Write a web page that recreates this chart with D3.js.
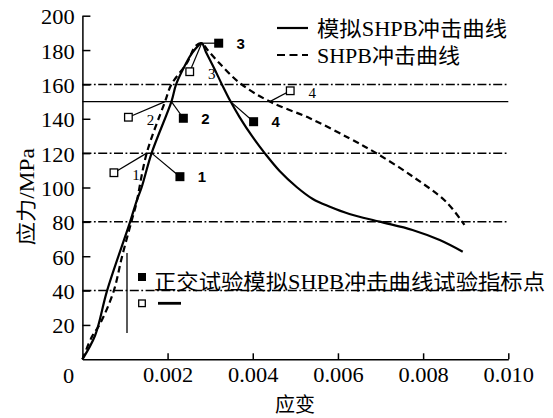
<!DOCTYPE html>
<html>
<head>
<meta charset="utf-8">
<script src="https://cdn.jsdelivr.net/npm/d3@7"></script>
<style>
  body { margin: 0; background: #fff; }
  svg { display: block; }
</style>
</head>
<body>
<div id="chart"></div>
<script>
// axis ticks
const strainTicks = [0.002, 0.004, 0.006, 0.008, 0.010];
const stressTicks = [20, 40, 60, 80, 100, 120, 140, 160, 180, 200];

// 模拟SHPB冲击曲线 (solid)
const simStrain = [0, 0.0003, 0.00058, 0.00112, 0.00128, 0.00139, 0.001625, 0.00209, 0.0022, 0.00245, 0.00257, 0.0027, 0.0028,
                   0.0029, 0.00309, 0.00327, 0.00348, 0.00369, 0.00398, 0.00428, 0.00463, 0.00503, 0.00541, 0.00581, 0.00627,
                   0.00698, 0.00775, 0.00839, 0.00893];
const simStress = [0, 14, 40, 80, 92.7, 100, 120, 150, 160, 173, 178, 182, 184,
                   178.9, 169.6, 160.3, 150, 141, 130, 120, 109.6, 100.3, 93.3, 88.8, 84.6,
                   80.1, 75.3, 69.4, 62.6];

// SHPB冲击曲线 (dashed)
const shpbStrain = [0, 0.000225, 0.00041, 0.00073, 0.00093, 0.00116, 0.00126, 0.00151, 0.00194, 0.00209, 0.00245, 0.00266, 0.0028,
                    0.00294, 0.00323, 0.0037, 0.0044, 0.00534, 0.00627, 0.0069, 0.00776, 0.00854, 0.00897];
const shpbStress = [0, 13.2, 20.5, 39.3, 59.7, 81, 90, 120, 150, 160, 172.3, 182.4, 184,
                    180, 172, 160.7, 150, 140.3, 128.6, 120, 106.3, 91.7, 78.2];

// reference stress levels
const dashDotLevels = [160, 120, 80, 40];
const solidLevels = [150];

// 正交试验 points (filled) and SHPB points (hollow), with leader anchor on curve
const pointIds = ['1', '2', '3', '4'];
const orthoStrain = [0.00229, 0.00237, 0.0032, 0.00402];
const orthoStress = [106.3, 140.3, 184, 138.3];
const orthoAnchorStrain = [0.001625, 0.00209, 0.0028, 0.00348];
const orthoAnchorStress = [120, 150, 184, 150];
const testStrain = [0.00074, 0.00108, 0.00252, 0.00488];
const testStress = [108.6, 140.9, 167.4, 156.3];
const testAnchorStrain = [0.00151, 0.00194, 0.0028, 0.0044];
const testAnchorStress = [120, 150, 184, 150];

const width = 553, height = 418;
const serif = "'Liberation Serif','Times New Roman','Noto Sans CJK SC',serif";
const stretch = 1.12;

const svg = d3.select('#chart').append('svg')
  .attr('width', width)
  .attr('height', height);

const x = d3.scaleLinear().domain([0, 0.01]).range([82.4, 508.3]);
const y = d3.scaleLinear().domain([0, 200]).range([359.3, 15.7]);

// reference lines
svg.selectAll('.dd').data(dashDotLevels).enter().append('line')
  .attr('x1', x(0)).attr('x2', x(0.01))
  .attr('y1', d => y(d)).attr('y2', d => y(d))
  .attr('stroke', '#000').attr('stroke-width', 1.5)
  .attr('stroke-dasharray', '9,2.5,1.8,2.5');

svg.selectAll('.sl').data(solidLevels).enter().append('line')
  .attr('x1', x(0)).attr('x2', x(0.01))
  .attr('y1', d => y(d)).attr('y2', d => y(d))
  .attr('stroke', '#000').attr('stroke-width', 1.4);

// axes
const xAxis = svg.append('g')
  .attr('transform', `translate(0,${y(0)})`)
  .call(d3.axisBottom(x).tickValues(strainTicks).tickFormat(d3.format('.3f'))
        .tickSizeInner(-6).tickSizeOuter(0).tickPadding(9));

const yAxis = svg.append('g')
  .attr('transform', `translate(${x(0)},0)`)
  .call(d3.axisLeft(y).tickValues(stressTicks)
        .tickSizeInner(-8).tickSizeOuter(0).tickPadding(7));

[xAxis, yAxis].forEach(g => {
  g.select('.domain').attr('stroke', '#000').attr('stroke-width', 1.5);
  g.selectAll('.tick line').attr('stroke', '#000').attr('stroke-width', 1.5);
  g.selectAll('.tick text')
    .attr('font-family', serif)
    .attr('font-size', 20)
    .attr('fill', '#000')
    .attr('transform', `scale(${stretch},1)`);
});
yAxis.selectAll('.tick text').attr('dy', '0.4em');

// origin label
svg.append('text')
  .attr('transform', `translate(68.7,382.7) scale(${stretch},1)`)
  .attr('text-anchor', 'middle')
  .attr('font-family', serif).attr('font-size', 20)
  .text('0');

// axis titles
svg.append('text')
  .attr('x', 295).attr('y', 412)
  .attr('text-anchor', 'middle')
  .attr('font-family', serif).attr('font-size', 20)
  .text('应变');

svg.append('text')
  .attr('transform', 'translate(34,196.7) rotate(-90)')
  .attr('text-anchor', 'middle')
  .attr('font-family', serif).attr('font-size', 20)
  .attr('textLength', 97).attr('lengthAdjust', 'spacingAndGlyphs')
  .text('应力/MPa');

// curves
const line = d3.line()
  .x(d => x(d[0]))
  .y(d => y(d[1]))
  .curve(d3.curveCatmullRom.alpha(0.5));

svg.append('path')
  .datum(simStrain.map((s, i) => [s, simStress[i]]))
  .attr('d', line)
  .attr('fill', 'none').attr('stroke', '#000').attr('stroke-width', 2.2);

svg.append('path')
  .datum(shpbStrain.map((s, i) => [s, shpbStress[i]]))
  .attr('d', line)
  .attr('fill', 'none').attr('stroke', '#000').attr('stroke-width', 2.2)
  .attr('stroke-dasharray', '6.5,4');

// leader lines
pointIds.forEach((id, i) => {
  svg.append('line')
    .attr('x1', x(orthoAnchorStrain[i])).attr('y1', y(orthoAnchorStress[i]))
    .attr('x2', x(orthoStrain[i])).attr('y2', y(orthoStress[i]))
    .attr('stroke', '#000').attr('stroke-width', 1.2);
  svg.append('line')
    .attr('x1', x(testAnchorStrain[i])).attr('y1', y(testAnchorStress[i]))
    .attr('x2', x(testStrain[i])).attr('y2', y(testStress[i]))
    .attr('stroke', '#000').attr('stroke-width', 1.2);
});

// filled squares + bold labels
pointIds.forEach((id, i) => {
  const px = x(orthoStrain[i]), py = y(orthoStress[i]);
  svg.append('rect')
    .attr('x', px - 4.5).attr('y', py - 4.5)
    .attr('width', 9).attr('height', 9)
    .attr('fill', '#000');
  svg.append('text')
    .attr('x', px + 22).attr('y', py + 5.5)
    .attr('text-anchor', 'middle')
    .attr('font-family', "'Liberation Sans',Arial,sans-serif")
    .attr('font-weight', 'bold').attr('font-size', 15)
    .text(id);
});

// hollow squares + plain labels
pointIds.forEach((id, i) => {
  const px = x(testStrain[i]), py = y(testStress[i]);
  svg.append('rect')
    .attr('x', px - 3.8).attr('y', py - 3.8)
    .attr('width', 7.6).attr('height', 7.6)
    .attr('fill', '#fff').attr('stroke', '#000').attr('stroke-width', 1.3);
  svg.append('text')
    .attr('x', px + 22).attr('y', py + 7.5)
    .attr('text-anchor', 'middle')
    .attr('font-family', serif).attr('font-size', 15)
    .attr('fill', '#000')
    .text(id);
});

// top legend
svg.append('line')
  .attr('x1', 277).attr('x2', 308).attr('y1', 28).attr('y2', 28)
  .attr('stroke', '#000').attr('stroke-width', 2.2);
svg.append('text')
  .attr('x', 317).attr('y', 35.5)
  .attr('font-family', serif).attr('font-size', 21)
  .attr('textLength', 190).attr('lengthAdjust', 'spacingAndGlyphs')
  .text('模拟SHPB冲击曲线');

svg.append('line')
  .attr('x1', 277).attr('x2', 308).attr('y1', 55).attr('y2', 55)
  .attr('stroke', '#000').attr('stroke-width', 2.2)
  .attr('stroke-dasharray', '8,4.5');
svg.append('text')
  .attr('x', 317).attr('y', 62.5)
  .attr('font-family', serif).attr('font-size', 21)
  .attr('textLength', 143).attr('lengthAdjust', 'spacingAndGlyphs')
  .text('SHPB冲击曲线');

// bottom legend
svg.append('line')
  .attr('x1', 127).attr('x2', 127).attr('y1', 253).attr('y2', 333)
  .attr('stroke', '#000').attr('stroke-width', 1.3);
svg.append('rect')
  .attr('x', 142 - 4).attr('y', 277 - 4).attr('width', 8).attr('height', 8)
  .attr('fill', '#000');
svg.append('rect')
  .attr('x', 142 - 3.3).attr('y', 303.3 - 3.3).attr('width', 6.6).attr('height', 6.6)
  .attr('fill', '#fff').attr('stroke', '#000').attr('stroke-width', 1.3);
svg.append('line')
  .attr('x1', 158).attr('x2', 181).attr('y1', 303.3).attr('y2', 303.3)
  .attr('stroke', '#000').attr('stroke-width', 2.8);
svg.append('text')
  .attr('x', 154).attr('y', 288.8)
  .attr('font-family', serif).attr('font-size', 21)
  .attr('textLength', 391).attr('lengthAdjust', 'spacingAndGlyphs')
  .text('正交试验模拟SHPB冲击曲线试验指标点');
</script>
</body>
</html>
